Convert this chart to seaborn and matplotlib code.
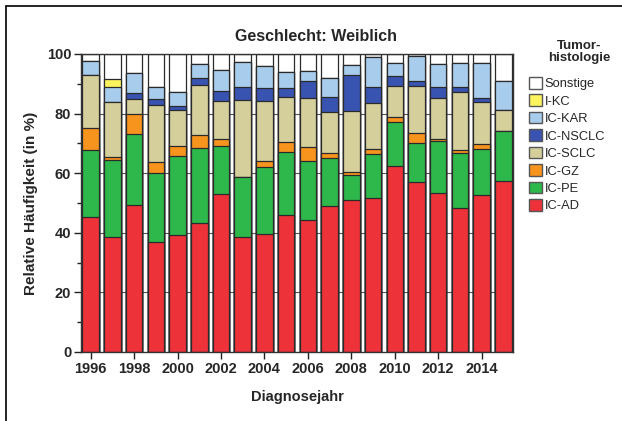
import numpy as np
import pandas as pd
import matplotlib
matplotlib.use("Agg")
import matplotlib.pyplot as plt
from matplotlib.patches import Patch
from matplotlib.ticker import MultipleLocator
import seaborn as sns

## data (percent per year)
years = list(range(1996, 2016))
categories = ['IC-AD', 'IC-PE', 'IC-GZ', 'IC-SCLC', 'IC-NSCLC', 'IC-KAR', 'I-KC', 'Sonstige']
ic_ad = [45.3, 38.5, 49.4, 36.8, 39.1, 43.1, 53.1, 38.6, 39.6, 46.1,
         44.2, 48.9, 51.1, 51.7, 62.4, 56.8, 53.4, 49.3, 52.5, 57.3]
ic_pe = [22.4, 25.9, 23.7, 23.1, 26.7, 25.1, 16.0, 20.1, 22.5, 21.1,
         19.9, 16.3, 8.3, 14.6, 14.8, 13.1, 17.4, 18.9, 15.7, 16.9]
ic_gz = [7.5, 1.1, 6.9, 3.8, 3.3, 4.6, 2.5, 0.0, 2.0, 3.1,
         4.7, 1.7, 1.0, 1.7, 1.7, 3.4, 0.6, 0.9, 1.5, 0.0]
ic_sclc = [17.7, 18.2, 4.8, 19.2, 12.2, 16.8, 12.6, 25.8, 20.2, 15.1,
           16.3, 13.7, 20.5, 15.4, 10.2, 15.7, 13.7, 19.9, 14.2, 6.9]
ic_nsclc = [0.0, 0.0, 2.0, 1.9, 1.3, 2.3, 3.4, 4.5, 4.3, 3.0,
            5.9, 5.1, 12.1, 5.4, 3.4, 1.7, 3.7, 1.7, 1.3, 0.0]
ic_kar = [4.8, 5.3, 6.8, 3.9, 4.5, 4.7, 7.0, 8.2, 7.2, 5.4,
          3.4, 6.1, 3.3, 10.1, 4.5, 8.3, 7.8, 8.3, 11.8, 9.9]
i_kc = [0.0, 2.5, 0.0, 0.0, 0.0, 0.0, 0.0, 0.0, 0.0, 0.0,
        0.0, 0.0, 0.0, 0.0, 0.0, 0.0, 0.0, 0.0, 0.0, 0.0]
sonstige = [2.3, 8.5, 6.4, 11.2, 12.9, 3.3, 5.4, 2.8, 4.2, 6.2,
            5.6, 8.2, 3.7, 1.1, 3.0, 0.7, 3.4, 3.0, 3.0, 9.0]

colors = {'IC-AD': '#ee3239', 'IC-PE': '#2eb84b', 'IC-GZ': '#f7941e',
          'IC-SCLC': '#d5cf9c', 'IC-NSCLC': '#3953b0', 'IC-KAR': '#a8cdec',
          'I-KC': '#fbf45e', 'Sonstige': '#ffffff'}

df = pd.DataFrame({'Jahr': years, 'IC-AD': ic_ad, 'IC-PE': ic_pe, 'IC-GZ': ic_gz,
                   'IC-SCLC': ic_sclc, 'IC-NSCLC': ic_nsclc, 'IC-KAR': ic_kar,
                   'I-KC': i_kc, 'Sonstige': sonstige})
# normalise each year to 100 %
tot = df[categories].sum(axis=1)
df[categories] = df[categories].div(tot, axis=0) * 100
cum = df[categories].cumsum(axis=1)
cum['Jahr'] = df['Jahr'].astype(str)

sns.set_style('white')
plt.rcParams['font.family'] = ['Liberation Sans', 'DejaVu Sans']

fig = plt.figure(figsize=(6.22, 4.21), dpi=100)
ax = fig.add_axes([0.130, 0.164, 0.695, 0.708])

# grid behind bars
for g in [20, 40, 60, 80]:
    ax.axhline(g, color='#555555', lw=0.8, zorder=0)

# stacked bars: draw cumulative totals from the top down
for cat in reversed(categories):
    sns.barplot(data=cum, x='Jahr', y=cat, color=colors[cat], saturation=1,
                width=0.76, edgecolor='#2a2a2a', linewidth=0.9, ax=ax, zorder=2)

ax.set_xlim(-0.45, 19.45)
ax.set_ylim(0, 100)
ax.set_xticks(range(0, 20, 2))
ax.set_xticklabels([str(y) for y in years[::2]])
ax.yaxis.set_major_locator(MultipleLocator(20))
ax.yaxis.set_minor_locator(MultipleLocator(10))
ax.tick_params(axis='both', which='major', direction='out', length=5, width=1,
               color='#222222', labelsize=10.5, pad=2, bottom=True, left=True)
ax.tick_params(axis='y', which='minor', direction='out', length=3, width=1,
               color='#222222', left=True)
for lab in ax.get_xticklabels() + ax.get_yticklabels():
    lab.set_fontweight('bold')
for sp in ax.spines.values():
    sp.set_color('#333333')
    sp.set_linewidth(1)

ax.set_xlabel('Diagnosejahr', fontsize=10.5, fontweight='bold', labelpad=10)
ax.set_ylabel('Relative Häufigkeit (in %)', fontsize=11, fontweight='bold', labelpad=6)
ax.set_title('Geschlecht: Weiblich', fontsize=11.5, fontweight='bold', pad=9, x=0.544)

# legend (title drawn as separate text)
fig.text(579 / 622, 1 - 46 / 421, 'Tumor-', ha='center', va='center',
         fontsize=9.5, fontweight='bold')
fig.text(579 / 622, 1 - 58 / 421, 'histologie', ha='center', va='center',
         fontsize=9.5, fontweight='bold')
handles = [Patch(facecolor=colors[c], edgecolor='#555555', linewidth=1)
           for c in reversed(categories)]
leg = fig.legend(handles, list(reversed(categories)),
                 loc='upper left', bbox_to_anchor=(0.850, 1 - 77 / 421), frameon=False,
                 fontsize=9.3, handlelength=1.0, handleheight=1.0,
                 handletextpad=0.25, labelspacing=0.33, borderaxespad=0, borderpad=0)

# outer frame lines (left and top)
fig.add_artist(plt.Line2D([0.009, 0.009], [0, 0.985], color='black', lw=1.2,
                          transform=fig.transFigure))
fig.add_artist(plt.Line2D([0.009, 1.0], [0.985, 0.985], color='black', lw=1.2,
                          transform=fig.transFigure))

fig.savefig('out.png', dpi=100)
